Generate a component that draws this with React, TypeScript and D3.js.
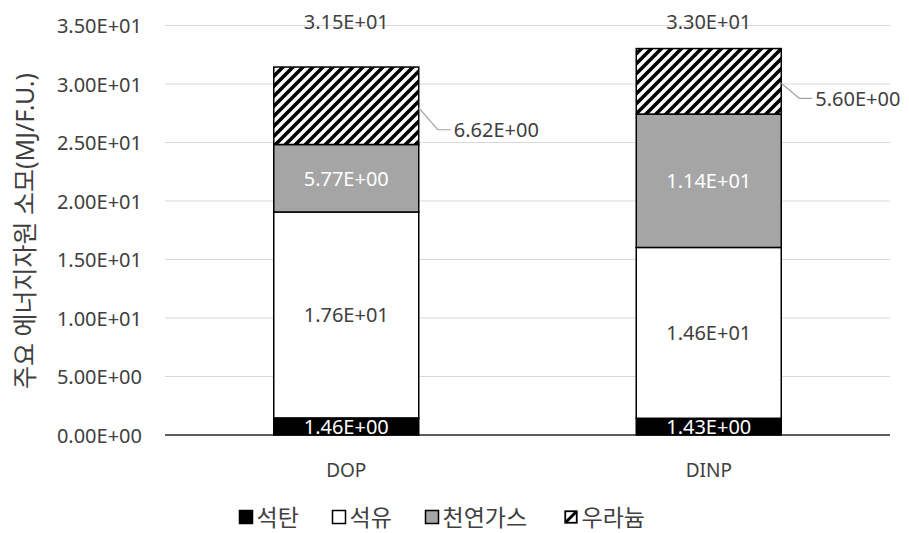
import React from "react";
import * as d3 from "d3";

// Primary energy resource consumption per functional unit, stacked by source
const categories = ["DOP", "DINP"];
const seriesNames = ["석탄", "석유", "천연가스", "우라늄"];
const coal = [1.46, 1.43];
const oil = [17.6, 14.6];
const naturalGas = [5.77, 11.4];
const uranium = [6.62, 5.6];
const totals = [31.5, 33.0];
const yTicks = [0, 5, 10, 15, 20, 25, 30, 35];
const yTitle = "주요 에너지자원 소모(MJ/F.U.)";

const W = 909;
const H = 533;
const plot = { left: 165, right: 890, top: 25.5, bottom: 435 };
const FONT = "'Noto Sans', 'Noto Sans CJK KR', sans-serif";
const TEXT = "#404040";
const GRAY = "#a5a5a5";

// Leader-line offsets for the uranium labels placed outside the bars
const leaderOffsets = [
  { dx: 19, dy: 22 },
  { dx: 18, dy: 15 },
];

// Excel-style scientific notation: 3.50E+01
const sci = (v: number) => {
  const [m, e] = v.toExponential(2).split("e");
  const n = parseInt(e, 10);
  const sign = n < 0 ? "-" : "+";
  return `${m}E${sign}${String(Math.abs(n)).padStart(2, "0")}`;
};

export default function App() {
  const x = d3
    .scaleBand<string>()
    .domain(categories)
    .range([plot.left, plot.right])
    .paddingInner(0.6)
    .paddingOuter(0.3);
  const y = d3.scaleLinear().domain([0, 35]).range([plot.bottom, plot.top]);

  const rows = categories.map((c, i) => ({
    category: c,
    coal: coal[i],
    oil: oil[i],
    gas: naturalGas[i],
    uranium: uranium[i],
  }));
  const keys = ["coal", "oil", "gas", "uranium"] as const;
  const stacked = d3.stack<any>().keys(keys as any)(rows);

  const fills = ["#000000", "#ffffff", GRAY, "url(#hatch)"];
  const labelColors = ["#ffffff", TEXT, "#ffffff", TEXT];

  // legend layout
  const legFs = 23;
  const sw = 13;
  const legGap = 30;
  let lx = 0;
  const legendItems = seriesNames.map((name, i) => {
    const item = { name, i, x: lx };
    lx += sw + 4 + name.length * legFs + legGap;
    return item;
  });
  const legendWidth = lx - legGap;
  const legendStart = 445 - legendWidth / 2;
  const legendY = 517;

  return (
    <svg
      width={W}
      height={H}
      style={{ position: "absolute", left: 0, top: 0, background: "#fff" }}
      fontFamily={FONT}
    >
      <defs>
        <pattern id="hatch" patternUnits="userSpaceOnUse" width={10} height={10}>
          <rect width={10} height={10} fill="#fff" />
          <path
            d="M-2,2 L2,-2 M0,10 L10,0 M8,12 L12,8"
            stroke="#000"
            strokeWidth={3.6}
          />
        </pattern>
      </defs>

      {/* gridlines */}
      {yTicks.map((t) => (
        <line
          key={t}
          x1={plot.left}
          x2={plot.right}
          y1={y(t)}
          y2={y(t)}
          stroke={t === 0 ? "#262626" : "#d9d9d9"}
          strokeWidth={t === 0 ? 1.5 : 1.2}
        />
      ))}

      {/* y tick labels */}
      {yTicks.map((t) => (
        <text
          key={"l" + t}
          x={142}
          y={y(t)}
          textAnchor="end"
          dominantBaseline="central"
          fontSize={20}
          fill={TEXT}
        >
          {sci(t)}
        </text>
      ))}

      {/* y axis title */}
      <text
        transform={`translate(24, ${231}) rotate(-90)`}
        textAnchor="middle"
        dominantBaseline="central"
        fontSize={25}
        fill={TEXT}
      >
        {yTitle}
      </text>

      {/* stacked bars */}
      {stacked.map((layer, li) =>
        layer.map((seg, ci) => {
          const x0 = x(categories[ci])!;
          const y0 = y(seg[1]);
          const y1 = y(seg[0]);
          return (
            <rect
              key={`${li}-${ci}`}
              x={x0}
              y={y0}
              width={x.bandwidth()}
              height={y1 - y0}
              fill={fills[li]}
              stroke="#000"
              strokeWidth={1.5}
            />
          );
        })
      )}

      {/* in-bar labels for coal, oil, gas */}
      {stacked.slice(0, 3).map((layer, li) =>
        layer.map((seg, ci) => {
          const cx = x(categories[ci])! + x.bandwidth() / 2;
          const cy = y((seg[0] + seg[1]) / 2);
          const value = (rows[ci] as any)[keys[li]];
          return (
            <text
              key={`t${li}-${ci}`}
              x={cx}
              y={cy}
              textAnchor="middle"
              dominantBaseline="central"
              fontSize={20}
              fill={labelColors[li]}
            >
              {sci(value)}
            </text>
          );
        })
      )}

      {/* uranium labels with leader lines */}
      {stacked[3].map((seg, ci) => {
        const bx = x(categories[ci])! + x.bandwidth();
        const by = y((seg[0] + seg[1]) / 2) + 2;
        const { dx, dy } = leaderOffsets[ci];
        const ex = bx + dx;
        const ey = by + dy;
        return (
          <g key={"u" + ci}>
            <path
              d={`M${bx},${by} L${ex},${ey} L${ex + 13},${ey}`}
              fill="none"
              stroke="#a6a6a6"
              strokeWidth={1.2}
            />
            <text
              x={ex + 16}
              y={ey}
              dominantBaseline="central"
              fontSize={20}
              fill={TEXT}
            >
              {sci(uranium[ci])}
            </text>
          </g>
        );
      })}

      {/* totals above bars */}
      {categories.map((c, ci) => (
        <text
          key={"tot" + c}
          x={x(c)! + x.bandwidth() / 2}
          y={21}
          textAnchor="middle"
          dominantBaseline="central"
          fontSize={20}
          fill={TEXT}
        >
          {sci(totals[ci])}
        </text>
      ))}

      {/* category labels */}
      {categories.map((c) => (
        <text
          key={"c" + c}
          x={x(c)! + x.bandwidth() / 2}
          y={470}
          textAnchor="middle"
          dominantBaseline="central"
          fontSize={19}
          fill={TEXT}
        >
          {c}
        </text>
      ))}

      {/* legend */}
      <g transform={`translate(${legendStart}, ${legendY})`}>
        {legendItems.map(({ name, i, x: ix }) => (
          <g key={name} transform={`translate(${ix}, 0)`}>
            {i < 3 ? (
              <rect
                x={0}
                y={-sw / 2}
                width={sw}
                height={sw}
                fill={fills[i]}
                stroke="#000"
                strokeWidth={1.5}
              />
            ) : (
              <g>
                <rect
                  x={0.75}
                  y={-sw / 2 + 0.75}
                  width={sw - 1.5}
                  height={sw - 1.5}
                  fill="#fff"
                  stroke="#000"
                  strokeWidth={1.8}
                />
                <path
                  d={`M1,${sw / 2 - 1} L${sw - 1},${-sw / 2 + 1}`}
                  stroke="#000"
                  strokeWidth={3}
                />
              </g>
            )}
            <text
              x={sw + 4}
              y={0}
              dominantBaseline="central"
              fontSize={legFs}
              fill={TEXT}
            >
              {name}
            </text>
          </g>
        ))}
      </g>
    </svg>
  );
}
